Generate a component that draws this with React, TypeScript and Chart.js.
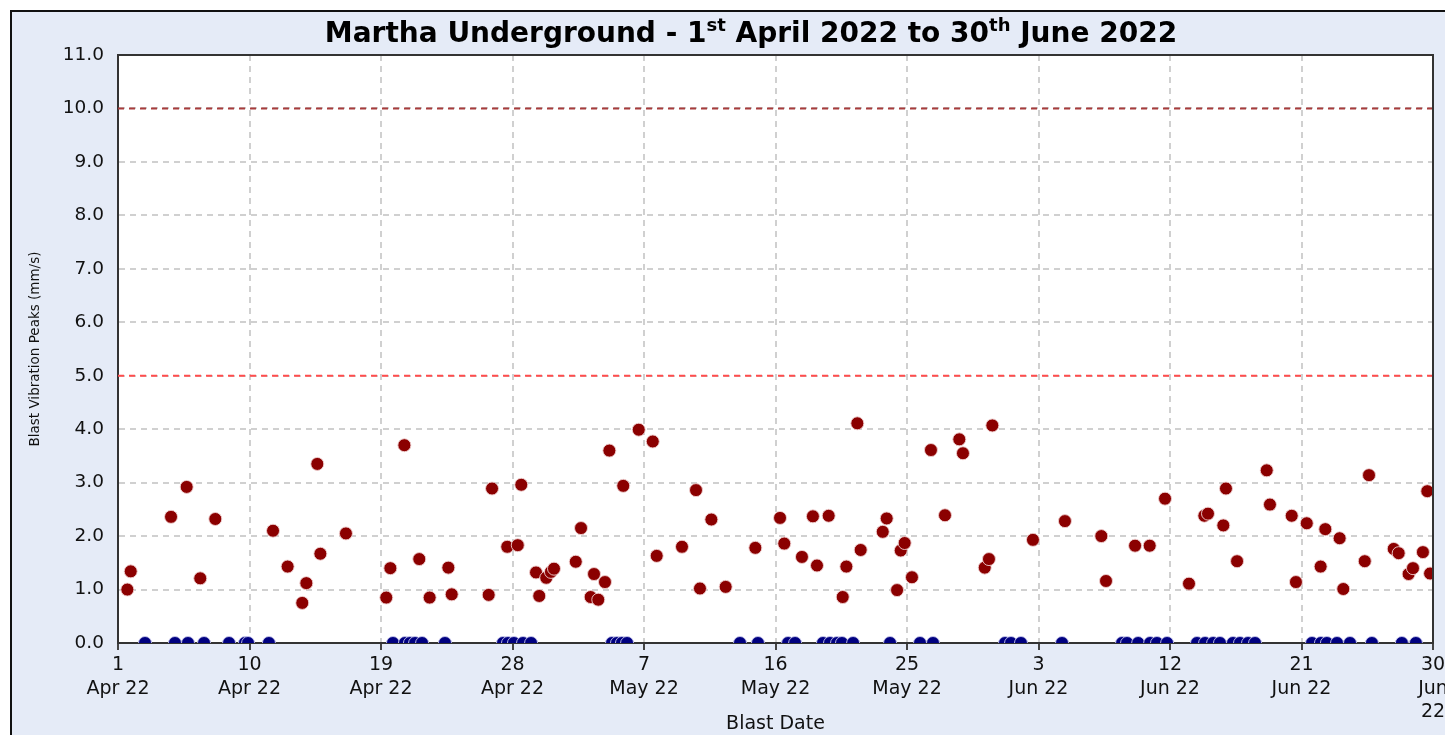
import React, { useEffect, useRef } from "react";
import { Chart, registerables } from "chart.js";

Chart.register(...registerables);

// Days after 1 Apr 2022 (fractional = time of blast) and peak values (mm/s)
const RED_DAYS = [
  0.64, 0.87, 3.63, 4.70, 5.63, 6.66, 10.61, 11.61, 12.61, 12.89, 13.64, 13.85, 15.60,
  18.36, 18.64, 19.60, 20.62, 21.33, 22.61, 22.84, 25.37, 25.60, 26.64, 27.36, 27.60,
  28.61, 28.83, 29.31, 29.63, 29.84, 31.33, 31.69, 32.35, 32.58, 32.87, 33.33, 33.63,
  34.58, 35.64, 36.60, 36.87, 38.60, 39.56, 39.83, 40.61, 41.59, 43.62, 45.31, 45.60,
  46.81, 47.56, 47.84, 48.64, 49.60, 49.85, 50.60, 50.83, 52.34, 52.61, 53.32, 53.57,
  53.84, 54.34, 55.64, 56.60, 57.58, 57.83, 59.32, 59.61, 59.84, 62.62, 64.81, 67.30,
  67.62, 69.61, 70.61, 71.66, 73.30, 74.35, 74.60, 75.65, 75.83, 76.59, 78.62, 78.84,
  80.33, 80.62, 81.36, 82.31, 82.63, 83.61, 83.86, 85.33, 85.62, 87.31, 87.65, 88.33,
  88.63, 89.31, 89.61, 89.80,
];
const RED_PEAKS = [
  1.00, 1.34, 2.36, 2.92, 1.21, 2.32, 2.10, 1.43, 0.75, 1.12, 3.35, 1.67, 2.05,
  0.85, 1.40, 3.70, 1.57, 0.85, 1.41, 0.91, 0.90, 2.89, 1.80, 1.83, 2.96,
  1.32, 0.88, 1.22, 1.33, 1.39, 1.52, 2.15, 0.86, 1.29, 0.81, 1.14, 3.60,
  2.94, 3.99, 3.77, 1.63, 1.80, 2.86, 1.02, 2.31, 1.05, 1.78, 2.34, 1.86,
  1.61, 2.37, 1.45, 2.38, 0.86, 1.43, 4.11, 1.74, 2.08, 2.33, 0.99, 1.73,
  1.87, 1.23, 3.61, 2.39, 3.81, 3.55, 1.41, 1.57, 4.07, 1.93, 2.28, 2.00,
  1.16, 1.82, 1.82, 2.70, 1.11, 2.38, 2.42, 2.20, 2.89, 1.53, 3.23, 2.59,
  2.38, 1.14, 2.24, 1.43, 2.13, 1.96, 1.01, 1.53, 3.14, 1.76, 1.68, 1.29,
  1.40, 1.70, 2.84, 1.30,
];
// Blasts with no trigger (0.0 mm/s)
const BLUE_DAYS = [
  1.85, 3.90, 4.79, 5.89, 7.60, 8.69, 8.90, 10.33,
  18.82, 19.64, 19.98, 20.33, 20.81, 22.38,
  26.35, 26.69, 27.10, 27.72, 28.27,
  33.81, 34.15, 34.49, 34.84,
  42.57, 43.80, 45.86, 46.34,
  48.25, 48.73, 49.21, 49.55, 50.31, 52.84, 54.89, 55.78,
  60.71, 61.12, 61.80, 64.61,
  68.72, 69.06, 69.82, 70.64, 71.11, 71.80,
  73.85, 74.40, 74.95, 75.42, 76.31, 76.79, 77.34, 77.82,
  81.72, 82.33, 82.74, 83.43, 84.32, 85.82, 87.87, 88.83,
];
const BLUE_PEAKS = BLUE_DAYS.map(() => 0);

const LIMIT_UPPER = 10;
const LIMIT_LOWER = 5;

const X_TICK_LABELS = [
  ["1", "Apr 22"], ["10", "Apr 22"], ["19", "Apr 22"], ["28", "Apr 22"],
  ["7", "May 22"], ["16", "May 22"], ["25", "May 22"], ["3", "Jun 22"],
  ["12", "Jun 22"], ["21", "Jun 22"], ["30", "Jun", "22"],
];

const TITLE_PARTS = [
  { text: "Martha Underground - 1", sup: false },
  { text: "st", sup: true },
  { text: " April 2022 to 30", sup: false },
  { text: "th", sup: true },
  { text: " June 2022", sup: false },
];

const FONT = "'DejaVu Sans', Verdana, sans-serif";

const titlePlugin = {
  id: "supTitle",
  afterDraw(chart: any) {
    const ctx = chart.ctx;
    ctx.save();
    const main = `bold 28px ${FONT}`;
    const sup = `bold 18px ${FONT}`;
    let total = 0;
    const widths = TITLE_PARTS.map((p) => {
      ctx.font = p.sup ? sup : main;
      const w = ctx.measureText(p.text).width;
      total += w;
      return w;
    });
    let x = 751 - total / 2;
    ctx.fillStyle = "#000";
    ctx.textBaseline = "alphabetic";
    ctx.textAlign = "left";
    TITLE_PARTS.forEach((p, i) => {
      ctx.font = p.sup ? sup : main;
      ctx.fillText(p.text, x, p.sup ? 31 : 42);
      x += widths[i];
    });
    ctx.restore();
  },
};

const areaPlugin = {
  id: "areaBg",
  beforeDraw(chart: any) {
    const { ctx, chartArea: a } = chart;
    ctx.save();
    ctx.fillStyle = "#ffffff";
    ctx.fillRect(a.left, a.top, a.right - a.left, a.bottom - a.top);
    ctx.restore();
  },
  afterDraw(chart: any) {
    const { ctx, chartArea: a } = chart;
    ctx.save();
    ctx.strokeStyle = "#333";
    ctx.lineWidth = 2;
    ctx.beginPath();
    ctx.moveTo(a.left, a.top);
    ctx.lineTo(a.right, a.top);
    ctx.lineTo(a.right, a.bottom);
    ctx.stroke();
    ctx.restore();
  },
};

export default function App() {
  const ref = useRef<HTMLCanvasElement | null>(null);

  useEffect(() => {
    if (!ref.current) return;
    const red = RED_DAYS.map((d, i) => ({ x: d, y: RED_PEAKS[i] }));
    const blue = BLUE_DAYS.map((d, i) => ({ x: d, y: BLUE_PEAKS[i] }));
    const chart = new Chart(ref.current, {
      type: "scatter",
      data: {
        datasets: [
          {
            data: red,
            backgroundColor: "#8b0000",
            borderColor: "rgba(240,210,210,0.9)",
            borderWidth: 1,
            pointRadius: 6.5,
            clip: { left: 0, right: 0, top: 0, bottom: 0 },
          },
          {
            data: blue,
            backgroundColor: "#000080",
            borderColor: "rgba(200,200,235,0.9)",
            borderWidth: 1,
            pointRadius: 6.5,
            clip: { left: 0, right: 0, top: 0, bottom: 0 },
          },
          {
            type: "line",
            data: [{ x: 0, y: LIMIT_UPPER }, { x: 90, y: LIMIT_UPPER }],
            borderColor: "#a83c3c",
            borderWidth: 2,
            borderDash: [6, 5],
            pointRadius: 0,
          },
          {
            type: "line",
            data: [{ x: 0, y: LIMIT_LOWER }, { x: 90, y: LIMIT_LOWER }],
            borderColor: "#ff4d4d",
            borderWidth: 2,
            borderDash: [6, 5],
            pointRadius: 0,
          },
        ] as any,
      },
      options: {
        responsive: false,
        animation: false,
        layout: { padding: { left: 20, right: 12, top: 55, bottom: 0 } },
        plugins: {
          legend: { display: false },
          tooltip: { enabled: false },
          title: { display: false },
        },
        scales: {
          x: {
            type: "linear",
            min: 0,
            max: 90,
            ticks: {
              stepSize: 9,
              autoSkip: false,
              maxRotation: 0,
              padding: 3,
              color: "#111",
              font: { family: FONT, size: 19, lineHeight: 1.25 },
              callback: (_v: any, i: number) => X_TICK_LABELS[i],
            },
            grid: {
              color: "#d0d0d0",
              lineWidth: 2,
              tickColor: "#444",
              tickLength: 7,
              tickWidth: 2,
              tickBorderDash: [],
            },
            border: { display: true, color: "#333", width: 2, dash: [6, 5] } as any,
            title: {
              display: true,
              text: "Blast Date",
              color: "#111",
              font: { family: FONT, size: 19, lineHeight: 1.2 },
              padding: { top: 0, bottom: 0 },
            },
            afterFit: (s: any) => {
              s.height = 92;
              s.paddingLeft = 0;
              s.paddingRight = 0;
            },
          },
          y: {
            min: 0,
            max: 11,
            ticks: {
              stepSize: 1,
              padding: 14,
              color: "#111",
              font: { family: FONT, size: 18.5 },
              callback: (v: any) => Number(v).toFixed(1),
            },
            grid: {
              color: "#d0d0d0",
              lineWidth: 2,
              drawTicks: false,
            },
            border: { display: true, color: "#333", width: 2, dash: [6, 5] } as any,
            title: {
              display: true,
              text: "Blast Vibration Peaks (mm/s)",
              color: "#111",
              font: { family: FONT, size: 13.5, lineHeight: 1.2 },
              padding: { top: 7, bottom: 0 },
            },
            afterFit: (s: any) => {
              s.width = 98;
              s.paddingTop = 0;
              s.paddingBottom = 0;
            },
          },
        },
      } as any,
      plugins: [areaPlugin, titlePlugin],
    });
    return () => chart.destroy();
  }, []);

  return (
    <div
      style={{
        position: "fixed",
        left: 0,
        top: 0,
        width: 1445,
        height: 735,
        background: "#ffffff",
        overflow: "hidden",
      }}
    >
      <div
        style={{
          position: "absolute",
          left: 10,
          top: 10,
          width: 1460,
          height: 760,
          background: "#e5ebf7",
          borderLeft: "2px solid #111",
          borderTop: "2px solid #111",
        }}
      />
      <canvas
        ref={ref}
        width={1445}
        height={735}
        style={{ position: "absolute", left: 0, top: 0, width: 1445, height: 735 }}
      />
    </div>
  );
}
